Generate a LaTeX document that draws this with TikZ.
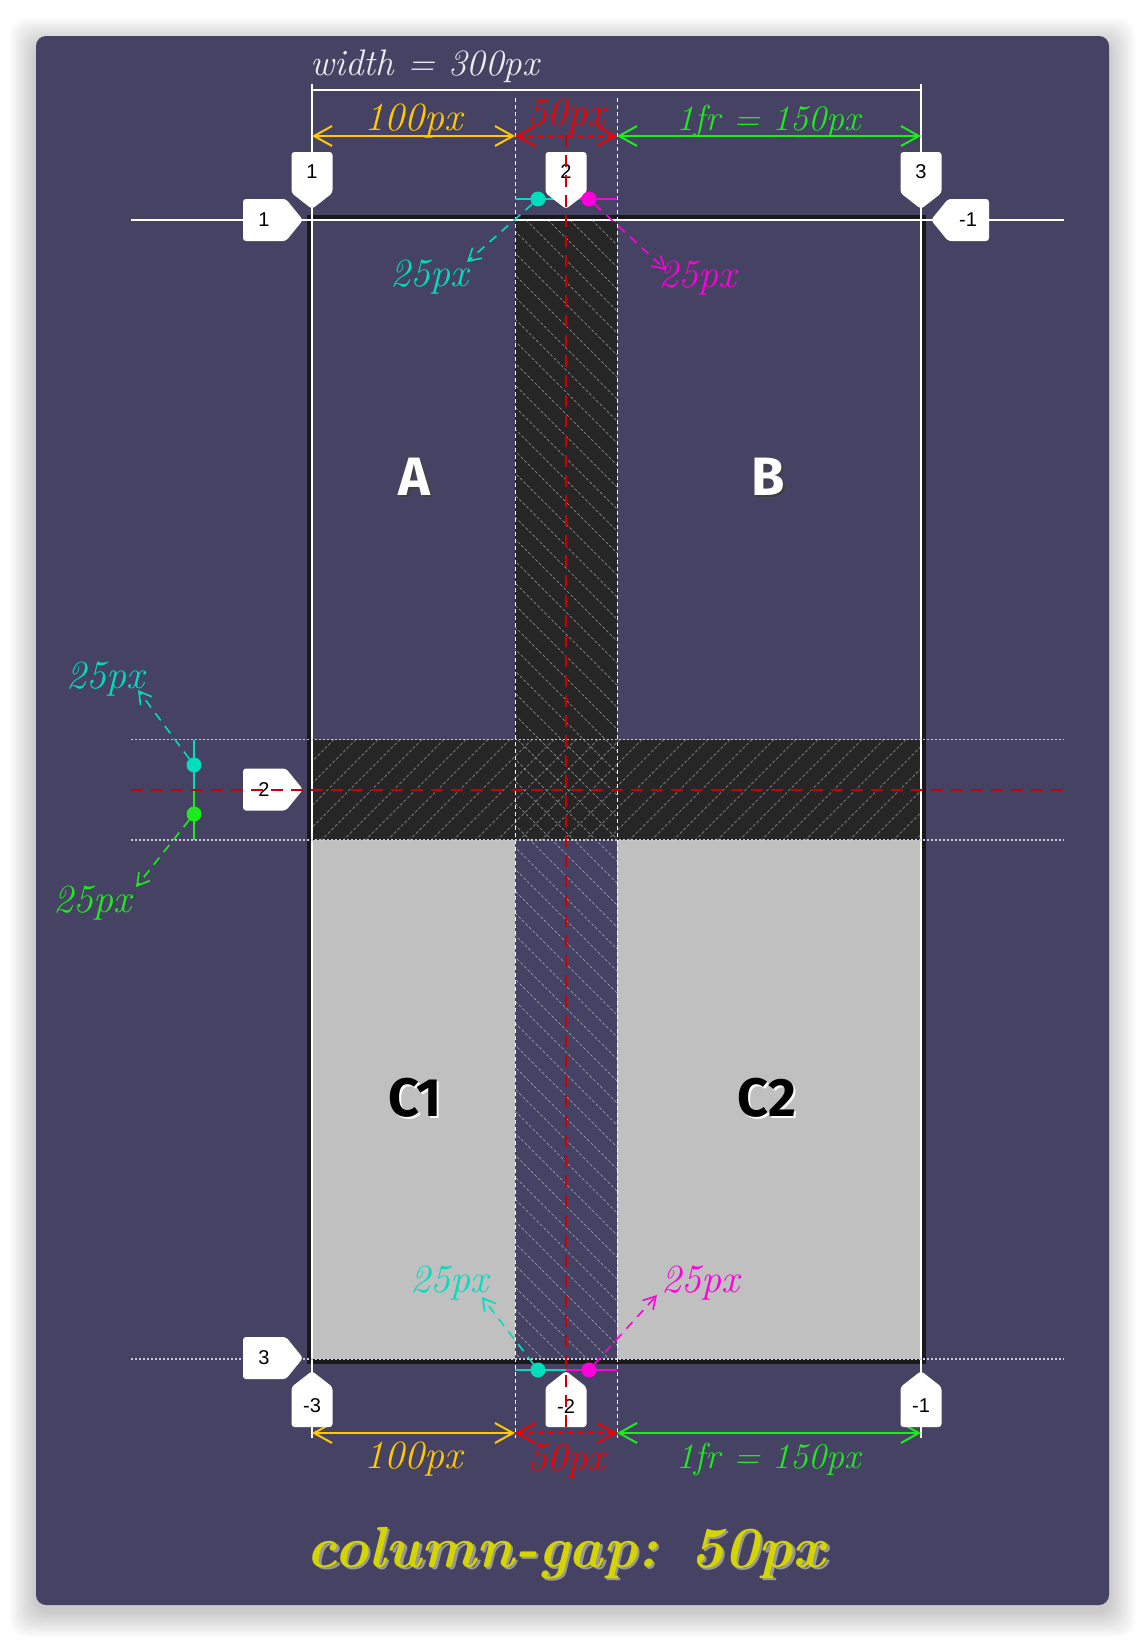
\documentclass[tikz,border=0pt]{standalone}
\usepackage{fontspec}
\newfontfamily\tagfont{Liberation Sans}
\newfontfamily\cellfont{Fira Sans}
\newcommand\handfont{\rmfamily\itshape}
\usetikzlibrary{arrows.meta,positioning}

\definecolor{panel}{RGB}{70,66,99}
\definecolor{gapfill}{RGB}{38,38,38}
\definecolor{cellgrey}{RGB}{192,192,192}
\definecolor{dimgold}{RGB}{255,200,0}
\definecolor{dimred}{RGB}{240,0,0}
\definecolor{dimgreen}{RGB}{30,235,30}
\definecolor{turq}{RGB}{0,222,190}
\definecolor{pink}{RGB}{255,0,220}
\definecolor{dotgrey}{RGB}{200,200,215}
\definecolor{titleyellow}{RGB}{212,212,0}

% tags on the grid lines
\newcommand\tagdown[3]{%
  \fill[white,rounded corners=3pt] (#2-20.5,152) -- (#2+20.5,152) -- (#2+20.5,193) -- (#2,209) -- (#2-20.5,193) -- cycle;
  \node[tagnum] (#1) at (#2,172) {#3};}
\newcommand\tagup[3]{%
  \fill[white,rounded corners=3pt] (#2-20.5,1427) -- (#2+20.5,1427) -- (#2+20.5,1387) -- (#2,1371) -- (#2-20.5,1387) -- cycle;
  \node[tagnum] (#1) at (#2,1406) {#3};}
\newcommand\tagright[3]{%
  \fill[white,rounded corners=3pt] (243,#2-21) -- (286,#2-21) -- (303,#2) -- (286,#2+21) -- (243,#2+21) -- cycle;
  \node[tagnum] (#1) at (264,#2) {#3};}
\newcommand\tagleft[3]{%
  \fill[white,rounded corners=3pt] (931,#2) -- (948,#2-21) -- (989,#2-21) -- (989,#2+21) -- (948,#2+21) -- cycle;
  \node[tagnum] (#1) at (968,#2) {#3};}

\begin{document}
\begin{tikzpicture}[x=1pt,y=-1pt,
  tagnum/.style={font=\tagfont\fontsize{20}{20}\selectfont,inner sep=0pt},
  hand/.style={font=\handfont\fontsize{40}{40}\selectfont,inner sep=0pt,anchor=base},
  frlab/.style={font=\handfont\fontsize{36}{36}\selectfont},
  cellab/.style={font=\cellfont\bfseries\fontsize{54}{54}\selectfont,inner sep=0pt},
  titletext/.style={font=\handfont\bfseries\fontsize{58}{58}\selectfont,inner sep=0pt},
  dim/.style={line width=2pt,{Straight Barb[length=18pt,width=20pt]}-{Straight Barb[length=18pt,width=20pt]}},
  ptr/.style={line width=1.6pt,dash pattern=on 9pt off 7pt,-{Straight Barb[length=12pt,width=14pt]}},
  dot/.style={circle,inner sep=0pt,minimum size=15pt},
  hatch/.style={white,opacity=0.55,line width=0.6pt,dash pattern=on 3pt off 2pt},
  gapline/.style={white,line width=1pt,dash pattern=on 4pt off 3pt},
  dotline/.style={dotgrey,line width=1.5pt,dash pattern=on 2pt off 2pt},
  redline/.style={dimred!85!black,line width=2pt,dash pattern=on 12pt off 8pt}]
\useasboundingbox (0,0) rectangle (1146,1642);
\fill[white] (0,0) rectangle (1146,1642);

% panel with soft shadow
\foreach \s in {2,4,...,26}
  \fill[black,opacity=0.014,rounded corners=16pt] (36-\s,44-\s) rectangle (1109+\s,1611+\s);
\fill[panel,rounded corners=10pt] (36,36) rectangle (1109,1605);

% areas
\fill[gapfill] (515,220) rectangle (617,739.5);
\fill[gapfill] (312,739.5) rectangle (921,840);
\fill[cellgrey] (312,840) rectangle (515,1359);
\fill[cellgrey] (617,840) rectangle (921,1359);

\begin{scope}
  \clip (515,220) rectangle (617,1359);
  \foreach \a in {-640,-618,...,617}
    \draw[hatch] (\a,220) -- ++(1160,1160);
\end{scope}
\begin{scope}
  \clip (312,739.5) rectangle (921,840);
  \foreach \a in {312,334,...,1040}
    \draw[hatch] (\a,739.5) -- ++(-110,110);
\end{scope}

\node[cellab,black!75] (cellAsh) at (416,479) {A};
\node[cellab,white] (cellA) at (414,477) {A};
\node[cellab,black!75] (cellBsh) at (770,479) {B};
\node[cellab,white] (cellB) at (768,477) {B};
\node[cellab,white] (cellC1sh) at (417,1100) {C1};
\node[cellab,black] (cellC1) at (415,1098) {C1};
\node[cellab,white] (cellC2sh) at (769,1100) {C2};
\node[cellab,black] (cellC2) at (767,1098) {C2};

% grid border and lines
\draw[black!90,line width=5pt] (309.5,217.5) rectangle (923.5,1361.5);
\draw[white,line width=1.5pt] (312,84) -- (312,1438);
\draw[white,line width=1.5pt] (921,84) -- (921,1438);
\draw[white,line width=2pt] (312,90) -- (921,90);
\draw[gapline] (515,98) -- (515,1438);
\draw[gapline] (617,98) -- (617,1438);
\draw[white,line width=1.5pt] (131,220) -- (1064,220);
\draw[dotline] (131,739.5) -- (1064,739.5);
\draw[dotline] (131,840) -- (1064,840);
\draw[dotline] (131,1359) -- (1064,1359);

% width and track sizes
\node[hand,anchor=base west,white!90!panel,font=\handfont\fontsize{37}{37}\selectfont] (widthlab) at (310,75) {width = 300px};

\coordinate (t1) at (312,136);
\coordinate (t2) at (515,136);
\coordinate (t3) at (617,136);
\coordinate (t4) at (921,136);
\draw[dim,dimgold] (t1) -- (t2);
\draw[dim,dimred,dash pattern=on 6pt off 4pt] (t2) -- (t3);
\draw[dim,dimgreen] (t3) -- (t4);
\node[hand,dimgold] (top100) at (413.5,130) {100px};
\node[hand,dimred] (top50) at (566,125) {50px};
\node[hand,frlab,dimgreen] (top150) at (769,130) {1fr = 150px};

\coordinate (b1) at (312,1433);
\coordinate (b2) at (515,1433);
\coordinate (b3) at (617,1433);
\coordinate (b4) at (921,1433);
\draw[dim,dimgold] (b1) -- (b2);
\draw[dim,dimred,dash pattern=on 6pt off 4pt] (b2) -- (b3);
\draw[dim,dimgreen] (b3) -- (b4);
\node[hand,dimgold] (bot100) at (413.5,1468) {100px};
\node[hand,dimred] (bot50) at (566,1470) {50px};
\node[hand,frlab,dimgreen] (bot150) at (769,1468) {1fr = 150px};

% half gaps
\draw[turq,line width=2pt] (515,199) -- (566,199);
\draw[pink,line width=2pt] (566,199) -- (617,199);
\draw[turq,line width=2pt] (515,1370) -- (566,1370);
\draw[pink,line width=2pt] (566,1370) -- (617,1370);
\draw[turq,line width=2pt] (194,739.5) -- (194,789.5);
\draw[dimgreen,line width=2pt] (194,789.5) -- (194,840);

% line tags
\tagdown{top1}{312}{1}
\tagdown{top2}{566}{2}
\tagdown{top3}{921}{3}
\tagup{bot1}{312}{-3}
\tagup{bot2}{566}{-2}
\tagup{bot3}{921}{-1}
\tagright{left1}{220}{1}
\tagright{left2}{789.5}{2}
\tagright{left3}{1358}{3}
\tagleft{right1}{220}{-1}

\draw[redline] (131,789.5) -- (1064,789.5);
\draw[redline] (566,135) -- (566,1432);

\node[dot,fill=turq] (gtl) at (538,199) {};
\node[dot,fill=pink] (gtr) at (589,199) {};
\node[dot,fill=turq] (gbl) at (538,1370) {};
\node[dot,fill=pink] (gbr) at (589,1370) {};
\node[dot,fill=turq] (rgt) at (194,765) {};
\node[dot,fill=dimgreen] (rgb) at (194,814) {};

\coordinate (gtlend) at (467,262);
\coordinate (gtrend) at (666,270);
\coordinate (gblend) at (482,1297);
\coordinate (gbrend) at (657,1295);
\coordinate (rgtend) at (138,690);
\coordinate (rgbend) at (136,887);
\draw[ptr,turq] (gtl) -- (gtlend);
\draw[ptr,pink] (gtr) -- (gtrend);
\draw[ptr,turq] (gbl) -- (gblend);
\draw[ptr,pink] (gbr) -- (gbrend);
\draw[ptr,turq] (rgt) -- (rgtend);
\draw[ptr,dimgreen] (rgb) -- (rgbend);

\node[hand,turq] (gtllab) at (429,286) {25px};
\node[hand,pink] (gtrlab) at (697,287) {25px};
\node[hand,turq] (gbllab) at (449,1292) {25px};
\node[hand,pink] (gbrlab) at (700,1292) {25px};
\node[hand,turq] (rgtlab) at (105,688) {25px};
\node[hand,dimgreen] (rgblab) at (92,912) {25px};

% title
\node[titletext,black!40] (titlesh) at (568.5,1555.5) {column-gap: 50px};
\node[titletext,titleyellow] (title) at (566,1553) {column-gap: 50px};
\end{tikzpicture}
\end{document}
